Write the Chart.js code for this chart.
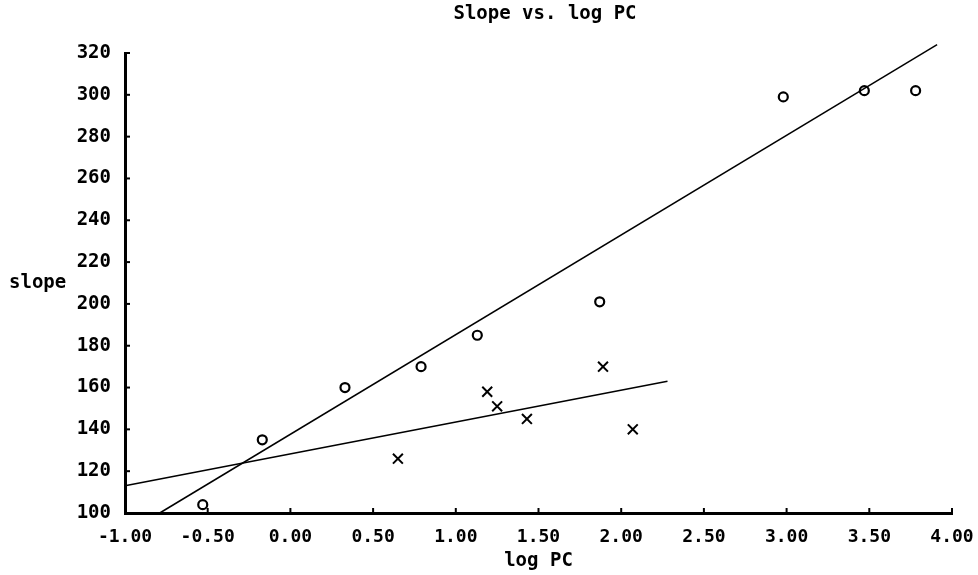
<!DOCTYPE html>
<html>
<head>
<meta charset="utf-8">
<script src="https://cdn.jsdelivr.net/npm/chart.js@4.4.1/dist/chart.umd.min.js"></script>
<style>
  html, body { margin: 0; padding: 0; background: #fff; }
  #wrap { position: relative; width: 978px; height: 575px; }
</style>
</head>
<body>
<div id="wrap"><canvas id="chart" width="978" height="575"></canvas></div>
<script>
// "o" group
const oLogPC = [-0.53, -0.17, 0.33, 0.79, 1.13, 1.87, 2.98, 3.47, 3.78];
const oSlope = [104, 135, 160, 170, 185, 201, 299, 302, 302];
// "x" group
const xLogPC = [0.65, 1.19, 1.25, 1.43, 1.89, 2.07];
const xSlope = [126, 158, 151, 145, 170, 140];
// fitted lines (end points)
const oFitX = [-0.79, 3.91];
const oFitY = [100, 324];
const xFitX = [-1.00, 2.28];
const xFitY = [113, 163];

const FONT = '"DejaVu Sans Mono", "Liberation Mono", monospace';

const toPts = (xs, ys) => xs.map((x, i) => ({ x: x, y: ys[i] }));

// small inward tick marks + free text labels
const decorPlugin = {
    id: 'decor',
    afterDraw(chart) {
        const ctx = chart.ctx;
        const xs = chart.scales.x, ys = chart.scales.y;
        const a = chart.chartArea;
        ctx.save();
        ctx.strokeStyle = '#000';
        ctx.lineWidth = 2;
        ys.ticks.forEach(t => {
            const py = ys.getPixelForValue(t.value);
            ctx.beginPath(); ctx.moveTo(a.left, py); ctx.lineTo(a.left + 5, py); ctx.stroke();
        });
        xs.ticks.forEach(t => {
            const px = xs.getPixelForValue(t.value);
            ctx.beginPath(); ctx.moveTo(px, a.bottom); ctx.lineTo(px, a.bottom - 5); ctx.stroke();
        });
        ctx.fillStyle = '#000';
        ctx.font = 'bold 19px ' + FONT;
        ctx.textAlign = 'center';
        ctx.textBaseline = 'middle';
        ctx.fillText('Slope vs. log PC', 545, 14);
        ctx.fillText('log PC', (a.left + a.right) / 2, 561);
        ctx.textAlign = 'left';
        ctx.fillText('slope', 9, 283);
        ctx.restore();
    }
};

new Chart(document.getElementById('chart'), {
    type: 'scatter',
    data: {
        datasets: [
            {
                label: 'o',
                data: toPts(oLogPC, oSlope),
                pointStyle: 'circle',
                pointRadius: 4.5,
                borderColor: '#000',
                backgroundColor: 'rgba(0,0,0,0)',
                borderWidth: 2.2
            },
            {
                label: 'x',
                data: toPts(xLogPC, xSlope),
                pointStyle: 'crossRot',
                pointRadius: 7,
                borderColor: '#000',
                borderWidth: 2
            },
            {
                label: 'fit o',
                data: toPts(oFitX, oFitY),
                showLine: true,
                pointRadius: 0,
                borderColor: '#000',
                borderWidth: 1.5,
                clip: false
            },
            {
                label: 'fit x',
                data: toPts(xFitX, xFitY),
                showLine: true,
                pointRadius: 0,
                borderColor: '#000',
                borderWidth: 1.5,
                clip: false
            }
        ]
    },
    options: {
        responsive: false,
        animation: false,
        layout: { padding: { top: 53, right: 26, left: 0, bottom: 0 } },
        plugins: {
            legend: { display: false },
            tooltip: { enabled: false }
        },
        scales: {
            x: {
                type: 'linear',
                min: -1, max: 4,
                afterFit: s => { s.height = 62; s.paddingLeft = 0; s.paddingRight = 0; },
                grid: { display: false, drawTicks: false },
                border: { display: true, color: '#000', width: 3 },
                ticks: {
                    stepSize: 0.5,
                    padding: 14,
                    color: '#000',
                    font: { family: FONT, size: 18, weight: 'bold' },
                    maxRotation: 0,
                    callback: v => v.toFixed(2)
                }
            },
            y: {
                min: 100, max: 320,
                afterFit: s => { s.width = 125; s.paddingTop = 0; s.paddingBottom = 0; },
                grid: { display: false, drawTicks: false },
                border: { display: true, color: '#000', width: 3 },
                ticks: {
                    stepSize: 20,
                    padding: 14,
                    color: '#000',
                    font: { family: FONT, size: 19, weight: 'bold' }
                }
            }
        }
    },
    plugins: [decorPlugin]
});
</script>
</body>
</html>
